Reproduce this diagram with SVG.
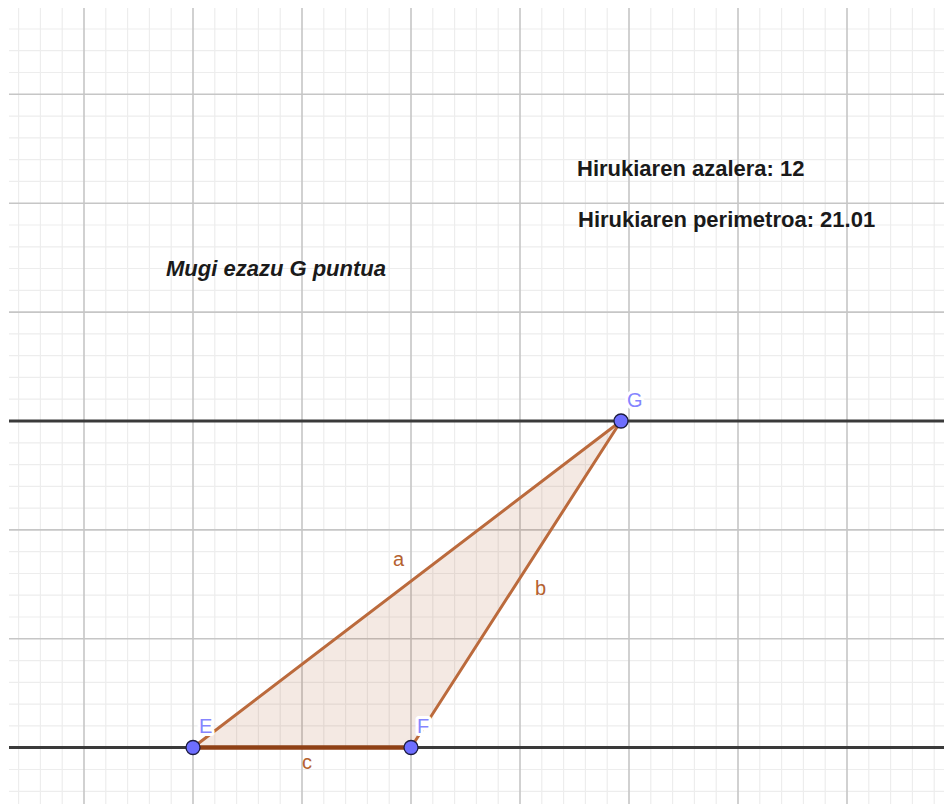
<svg xmlns="http://www.w3.org/2000/svg" width="944" height="805" viewBox="0 0 944 805">
  <style>
    .minor { stroke: #ededed; stroke-width: 1.2; fill: none; }
    .major { stroke: #c6c6c6; stroke-width: 1.6; fill: none; }
    .axisline { stroke: #3a3a3a; stroke-width: 2.8; }
    .seg { stroke: #bb6a3c; stroke-width: 3; stroke-linecap: round; }
    .segc { stroke: #8f4116; stroke-width: 4.5; }
    .pt { fill: #6e6eff; stroke: #1c1c40; stroke-width: 1.3; }
    .ptlabel { font-family: "Liberation Sans", Arial, sans-serif; font-size: 20px; fill: #8585ff; stroke: #ffffff; stroke-width: 6; paint-order: stroke; stroke-linejoin: round; }
    .seglabel { font-family: "Liberation Sans", Arial, sans-serif; font-size: 20px; fill: #b5612f; }
    .info { font-family: "Liberation Sans", Arial, sans-serif; font-size: 22px; font-weight: bold; fill: #1a1a1a; }
    .hint { font-family: "Liberation Sans", Arial, sans-serif; font-size: 22px; font-weight: bold; font-style: italic; fill: #1a1a1a; }
  </style>
  <defs>
    <clipPath id="gridclip"><rect x="9" y="8" width="935" height="796"/></clipPath>
  </defs>
  <rect width="944" height="805" fill="#ffffff"/>
  <g id="grid" clip-path="url(#gridclip)">
    <path class="minor" d="M18.6 8V804M40.4 8V804M62.2 8V804M105.8 8V804M127.6 8V804M149.4 8V804M171.2 8V804M214.8 8V804M236.6 8V804M258.4 8V804M280.2 8V804M323.8 8V804M345.6 8V804M367.4 8V804M389.2 8V804M432.8 8V804M454.6 8V804M476.4 8V804M498.2 8V804M541.8 8V804M563.6 8V804M585.4 8V804M607.2 8V804M650.8 8V804M672.6 8V804M694.4 8V804M716.2 8V804M759.8 8V804M781.6 8V804M803.4 8V804M825.2 8V804M868.8 8V804M890.6 8V804M912.4 8V804M934.2 8V804
    M9 29H944M9 50.7H944M9 72.5H944M9 116.1H944M9 137.9H944M9 159.6H944M9 181.4H944M9 225H944M9 246.8H944M9 268.5H944M9 290.3H944M9 333.9H944M9 355.7H944M9 377.4H944M9 399.2H944M9 442.8H944M9 464.6H944M9 486.3H944M9 508.1H944M9 551.7H944M9 573.5H944M9 595.2H944M9 617H944M9 660.6H944M9 682.4H944M9 704.1H944M9 725.9H944M9 769.5H944M9 791.3H944"/>
    <path class="major" d="M84 8V804M193 8V804M302 8V804M411 8V804M520 8V804M629 8V804M738 8V804M847 8V804
    M9 94.3H944M9 203.2H944M9 312.1H944M9 421H944M9 529.9H944M9 638.8H944M9 747.7H944"/>
  </g>
  <g id="lines">
    <line id="line-top" class="axisline" x1="9" y1="421" x2="944" y2="421"/>
    <line id="line-bottom" class="axisline" x1="9" y1="747.5" x2="944" y2="747.5"/>
  </g>
  <g id="triangle">
    <polygon points="193,747.5 411,747.5 621,421" fill="#993300" fill-opacity="0.11"/>
  </g>
  <g id="connectors">
    <line id="seg-a" class="seg" x1="193" y1="747.5" x2="621" y2="421"/>
    <line id="seg-b" class="seg" x1="411" y1="747.5" x2="621" y2="421"/>
    <line id="seg-c" class="segc" x1="193" y1="747.5" x2="411" y2="747.5"/>
  </g>
  <g id="segment-labels">
    <text class="seglabel" x="393" y="566">a</text>
    <text class="seglabel" x="535" y="595">b</text>
    <text class="seglabel" x="302" y="769">c</text>
  </g>
  <g id="node-E">
    <text class="ptlabel" x="199" y="733">E</text>
    <circle class="pt" cx="193" cy="747.5" r="7"/>
  </g>
  <g id="node-F">
    <text class="ptlabel" x="417" y="733">F</text>
    <circle class="pt" cx="411" cy="747.5" r="7"/>
  </g>
  <g id="node-G">
    <text class="ptlabel" x="627" y="407">G</text>
    <circle class="pt" cx="621" cy="421" r="7"/>
  </g>
  <g id="texts">
    <text class="info" x="577" y="176">Hirukiaren azalera: 12</text>
    <text class="info" x="578" y="227">Hirukiaren perimetroa: 21.01</text>
    <text class="hint" x="166" y="276">Mugi ezazu G puntua</text>
  </g>
</svg>
